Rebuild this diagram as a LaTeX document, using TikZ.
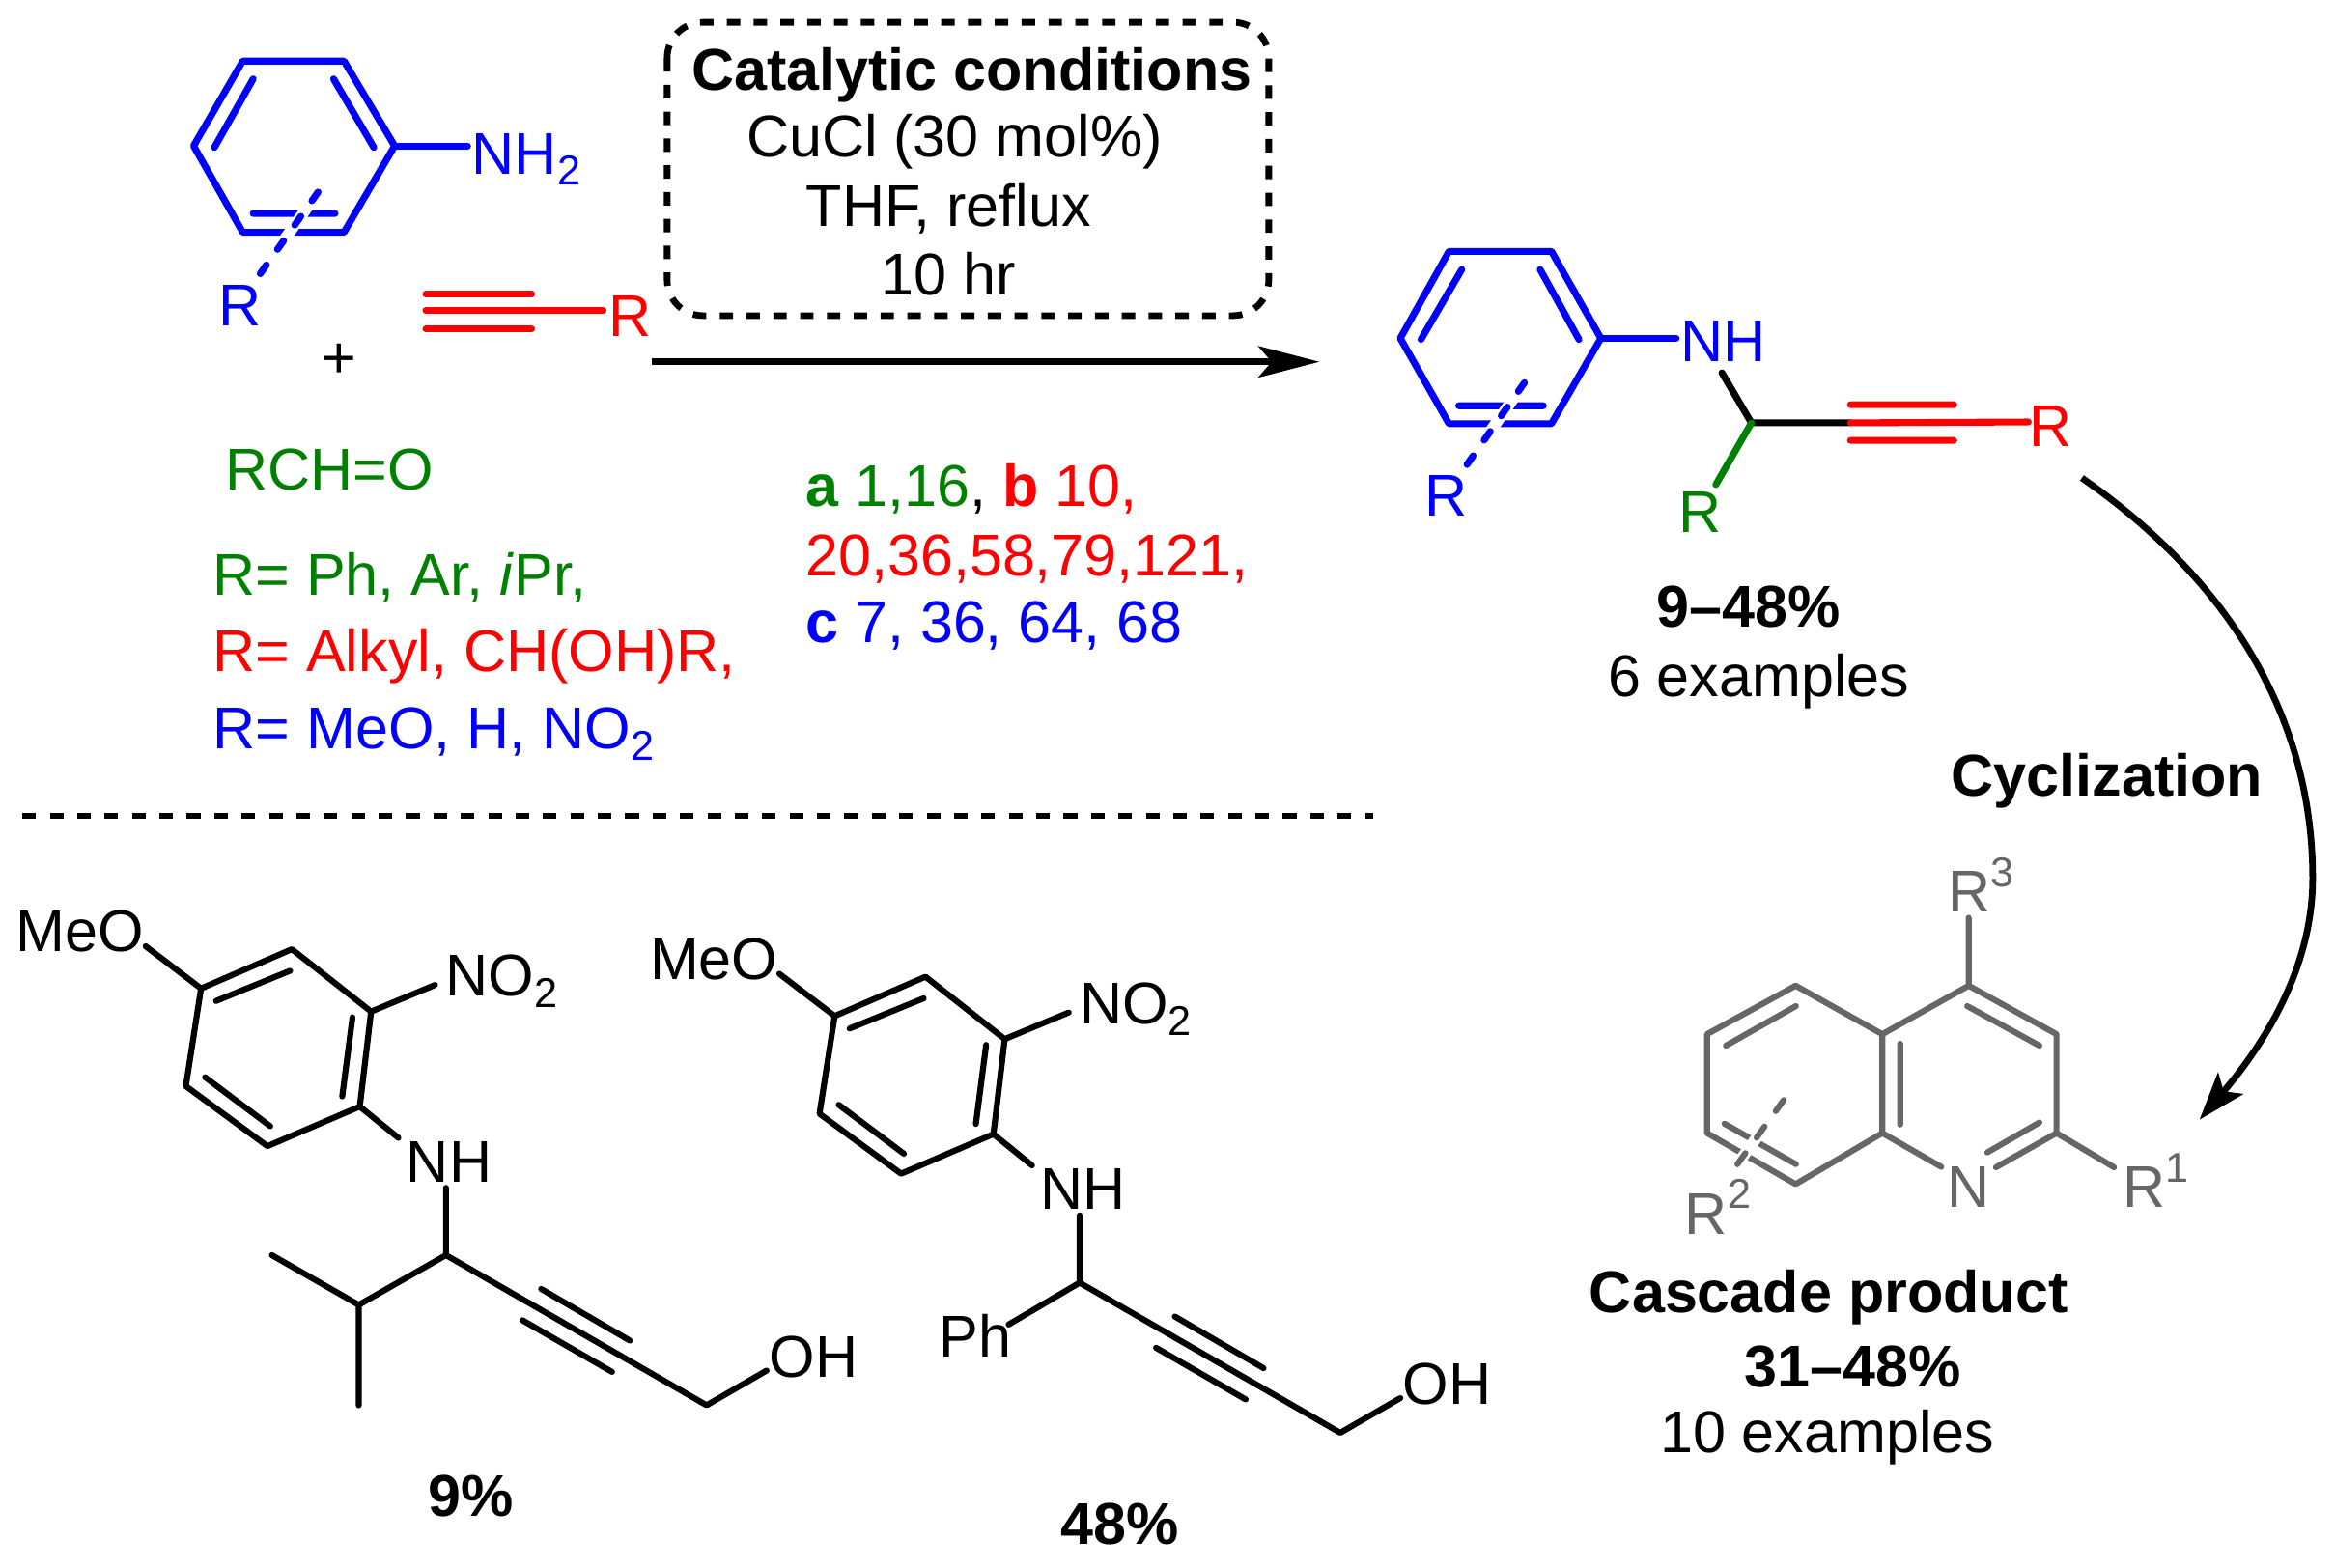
\documentclass[tikz,border=0pt]{standalone}
\usepackage{fontspec}
\setmainfont{Liberation Sans}
\usetikzlibrary{arrows.meta}
\definecolor{cblue}{HTML}{0000FF}
\definecolor{cred}{HTML}{FF0000}
\definecolor{cgreen}{HTML}{008000}
\definecolor{cgray}{HTML}{666666}
\newcommand\sbs[1]{\raisebox{-3.8pt}{\fontsize{14}{14}\selectfont #1}}
\newcommand\sps[1]{\raisebox{8.5pt}{\fontsize{14}{14}\selectfont #1}}
\newcommand\bigb{\fontsize{19.8}{23}\bfseries\selectfont}
\tikzset{
  txt/.style={inner sep=0pt,outer sep=0pt,font=\fontsize{19.8}{24}\selectfont,anchor=base,yshift=-0.4pt},
  ltxt/.style={txt,anchor=base west},
  btxt/.style={inner sep=0pt,outer sep=0pt,font=\bigb,anchor=base,yshift=-0.4pt},
  bond/.style={line width=2pt,line cap=round,line join=round},
  cbond/.style={line width=2.3pt,line cap=round,line join=round},
  halo/.style={white,line width=3.8pt,line cap=butt},
  dashb/.style={line width=2.3pt,line cap=round,dash pattern=on 3.6pt off 6.4pt},
  dashg/.style={line width=2pt,line cap=round,dash pattern=on 4.6pt off 6.4pt},
  divider/.style={line width=2pt,dash pattern=on 4.6pt off 4.6pt},
  condbox/.style={line width=2.2pt,rounded corners=12pt,dash pattern=on 4.5pt off 4.5pt},
  rxn/.style={line width=2.1pt,-{Stealth[length=20.5pt,width=10.5pt,inset=4.5pt]}},
  cycl/.style={line width=2.2pt,-{Stealth[length=16pt,width=11pt,inset=3.5pt]}},
}
% the shared aryl part of the two examples, #1 prefix
\newcommand\arylpart[1]{
  \coordinate (#1a) at (135,663.9);
  \coordinate (#1b) at (196,637.5);
  \coordinate (#1c) at (249.2,679.4);
  \coordinate (#1d) at (241.6,743.2);
  \coordinate (#1e) at (179.6,769.8);
  \coordinate (#1f) at (124.8,729.5);
  \coordinate (#1o) at (97.8,635.5);
  \coordinate (#1n) at (292.2,661.5);
  \coordinate (#1h) at (267.5,764.2);
  \coordinate (#1h2) at (299.5,797.8);
  \coordinate (#1ch) at (299.5,843);
  \coordinate (#1oc) at (474.5,943.8);
  \coordinate (#1oh) at (514.8,920.5);
  \draw[bond] (#1a)--(#1b)--(#1c)--(#1d)--(#1e)--(#1f)--cycle;
  \draw[bond] (#1o)--(#1a) (#1c)--(#1n) (#1d)--(#1h) (#1h2)--(#1ch)--(#1oc)--(#1oh);
  \draw[bond] (145,672.3)--(194.8,652) (236.7,683.3)--(229.8,736.4) (137.7,723.5)--(181.5,756.4);
  \draw[bond] (363.4,865.7)--(423,900.4) (350.8,886.7)--(411,921.4);
  \node[ltxt] (#1meo) at (11,638.4) {MeO};
  \node[ltxt] (#1no) at (299.5,668.4) {NO\sbs{2}};
  \node[ltxt] (#1nh) at (273,793) {NH};
  \node[ltxt] (#1ohl) at (516.5,924) {OH};
}
\begin{document}
\begin{tikzpicture}[x=0.5pt,y=-0.5pt]
\useasboundingbox (0,0) rectangle (1568,1053);

% ---- aniline
\begin{scope}[cblue]
\coordinate (a1) at (163,41); \coordinate (a2) at (231,41); \coordinate (a3) at (265,98);
\coordinate (a4) at (231,156); \coordinate (a5) at (163,156); \coordinate (a6) at (130,98);
\coordinate (a7) at (314,98); \coordinate (ad1) at (213.6,129); \coordinate (ad2) at (172,187.7);
\draw[cbond] (a1)--(a2)--(a3)--(a4)--(a5)--(a6)--cycle;
\draw[cbond] (a3)--(a7);
\draw[cbond] (170,53)--(144,99) (224,53)--(251,99) (170,143.4)--(225,143.4);
\draw[halo] (ad1)--(ad2);
\draw[dashb] (ad1)--(ad2);
\node[ltxt] (anh) at (317,116) {NH\sbs{2}};
\node[txt] (ar) at (161,218) {R};
\end{scope}
\node[txt] (plus) at (228,253) {+};

% ---- alkyne
\begin{scope}[cred]
\coordinate (k1) at (286,197.7); \coordinate (k2) at (357,197.7);
\coordinate (k3) at (286,208.6); \coordinate (k4) at (405,208.6);
\coordinate (k5) at (286,221); \coordinate (k6) at (357,221);
\draw[cbond] (k1)--(k2) (k3)--(k4) (k5)--(k6);
\node[txt] (kr) at (423,225) {R};
\end{scope}

% ---- conditions
\draw[condbox] (448,15) rectangle (852,212);
\node[btxt] (cc) at (652.5,59.6) {Catalytic conditions};
\node[txt] (c1) at (641,104.5) {CuCl (30 mol\%)};
\node[txt] (c2) at (637,151.5) {THF, reflux};
\node[txt] (c3) at (637,197) {10 hr};
\coordinate (ra) at (438,243); \coordinate (rb) at (886,243);
\draw[rxn] (ra)--(rb);

% ---- left legend
\node[txt,text=cgreen] (rcho) at (221,328.5) {RCH=O};
\node[ltxt,text=cgreen] (l1) at (143,399) {R= Ph, Ar, \textit{i}Pr,};
\node[ltxt,text=cred] (l2) at (143,450.5) {R= Alkyl, CH(OH)R,};
\node[ltxt,text=cblue] (l3) at (143,502) {R= MeO, H, NO\sbs{2}};

% ---- references
\node[ltxt] (r1) at (541,339.4) {\textcolor{cgreen}{\textbf{a} 1,16}, \textcolor{cred}{\textbf{b} 10,}};
\node[ltxt,text=cred] (r2) at (541,385.8) {20,36,58,79,121,};
\node[ltxt,text=cblue] (r3) at (541,431) {\textbf{c} 7, 36, 64, 68};

% ---- product
\begin{scope}[cblue]
\coordinate (p1) at (973,168.8); \coordinate (p2) at (1041.8,168.8); \coordinate (p3) at (1075,227.2);
\coordinate (p4) at (1041.8,284.6); \coordinate (p5) at (973,284.6); \coordinate (p6) at (940.3,227.2);
\coordinate (p7) at (1125.6,227.2); \coordinate (pd1) at (1023.7,257); \coordinate (pd2) at (983,315);
\draw[cbond] (p1)--(p2)--(p3)--(p4)--(p5)--(p6)--cycle;
\draw[cbond] (p3)--(p7);
\draw[cbond] (981.6,181)--(954.2,228) (1034.2,181)--(1060.3,228) (979.5,272.5)--(1036.4,272.5);
\draw[halo] (pd1)--(pd2);
\draw[dashb] (pd1)--(pd2);
\node[ltxt] (pnh) at (1128.5,242) {NH};
\node[ltxt] (pr) at (957,346) {R};
\end{scope}
\coordinate (q1) at (1156.3,250.4); \coordinate (q2) at (1176.1,284);
\coordinate (q3) at (1242.6,284); \coordinate (q4) at (1152.2,325.5);
\coordinate (q5) at (1362,283.4);
\draw[cbond] (q1)--(q2)--(q3);
\draw[cbond,cgreen] (q2)--(q4);
\draw[cbond,cred] (q3)--(q5) (1242.6,271.8)--(1312,271.8) (1242.6,295.8)--(1312,295.8);
\node[ltxt,text=cred] (pr2) at (1362.5,299) {R};
\node[ltxt,text=cgreen] (pr3) at (1127.5,357) {R};
\node[btxt] (py) at (1174,420.7) {9–48\%};
\node[txt] (pe) at (1181,467) {6 examples};

% ---- cyclization arrow
\coordinate (ca) at (1398,321); \coordinate (cm) at (1553,590); \coordinate (cb) at (1477,752);
\draw[cycl] (ca) .. controls (1490,385) and (1553,475) .. (cm) .. controls (1553,640) and (1530,690) .. (cb);
\node[btxt] (cy) at (1415,533.6) {Cyclization};

% ---- quinoline
\begin{scope}[cgray]
\coordinate (c4) at (1322,662); \coordinate (c3) at (1381,694.6); \coordinate (c2) at (1381,761);
\coordinate (c8a) at (1264,761); \coordinate (c4a) at (1264,694.6); \coordinate (c5) at (1205.8,662);
\coordinate (c6) at (1146.3,694.6); \coordinate (c7) at (1146.3,761); \coordinate (c8) at (1205.8,795.3);
\coordinate (nl) at (1303.6,783.7); \coordinate (nr) at (1340.3,784);
\coordinate (r3b) at (1322,616.4); \coordinate (r1b) at (1419.6,784);
\coordinate (qd1) at (1197.8,738.8); \coordinate (qd2) at (1165.4,783.7);
\draw[bond] (c4)--(c3)--(c2)--(nr) (nl)--(c8a)--(c4a)--(c4);
\draw[bond] (c4a)--(c5)--(c6)--(c7)--(c8)--(c8a);
\draw[bond] (c4)--(r3b) (c2)--(r1b);
\draw[bond] (1321,675.7)--(1369.5,702.3) (1369.5,753.9)--(1334.5,774) (1276,701)--(1276,755.3);
\draw[bond] (1206,675.7)--(1159,702.3) (1158,754.7)--(1206,781.9);
\draw[halo] (qd1)--(qd2);
\draw[dashg] (qd1)--(qd2);
\node[ltxt] (qr3) at (1308.5,612) {R\sps{3}};
\node[txt] (qn) at (1322,810) {N};
\node[ltxt] (qr1) at (1425.5,810) {R\sps{1}};
\node[ltxt] (qr2) at (1131.5,828) {R\sps{2}};
\end{scope}
\node[btxt] (qa) at (1228,881) {Cascade product};
\node[btxt] (qb) at (1244,930.5) {31–48\%};
\node[txt] (qc) at (1227,975) {10 examples};

% ---- divider
\coordinate (da) at (15,548); \coordinate (db) at (922,548);
\draw[divider] (da)--(db);

% ---- example 9%
\arylpart{x}
\coordinate (xi) at (240.9,876.4); \coordinate (xm1) at (182.6,843); \coordinate (xm2) at (240.9,943.8);
\draw[bond] (xch)--(xi)--(xm1) (xi)--(xm2);
\node[btxt] (xy) at (316,1017.8) {9\%};

% ---- example 48%
\begin{scope}[shift={(425.5,18.5)}]
\arylpart{y}
\coordinate (yph) at (251.8,871.1);
\draw[bond] (ych)--(yph);
\node[ltxt] (yphl) at (205,892.4) {Ph};
\end{scope}
\node[btxt] (yy) at (752,1036.5) {48\%};
\end{tikzpicture}
\end{document}
